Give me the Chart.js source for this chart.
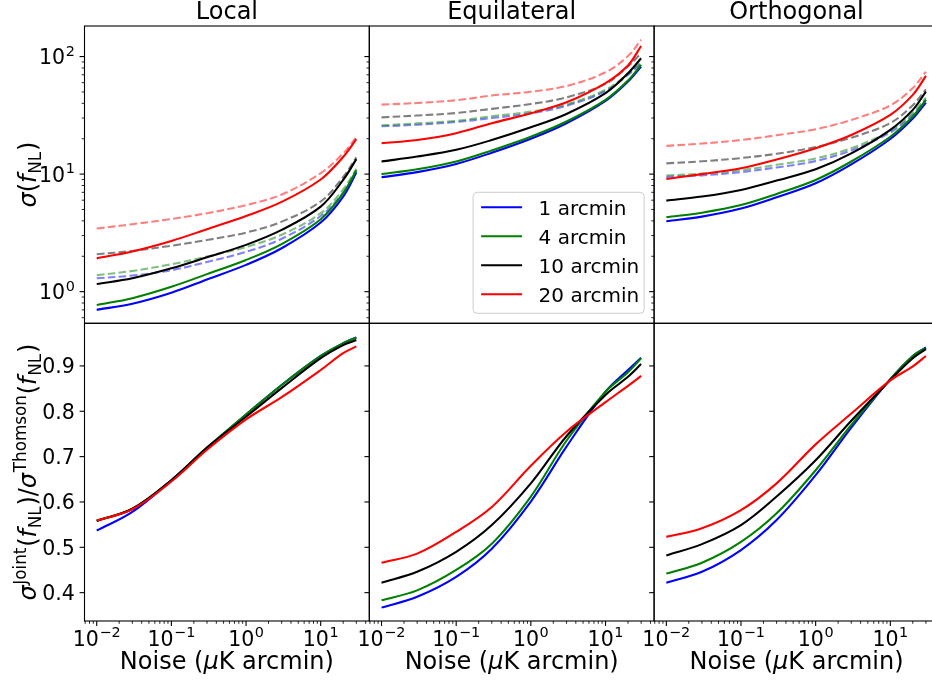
<!DOCTYPE html>
<html><head><meta charset="utf-8"><title>sigma fNL vs noise</title>
<script src="https://cdn.jsdelivr.net/npm/chart.js@4.4.1/dist/chart.umd.min.js"></script>
<style>
html,body{margin:0;padding:0;width:932px;height:683px;overflow:hidden;background:#fff}
canvas{position:absolute;left:0;top:0}
</style></head><body>
<script>
// ---------------- data ----------------
const noise = [0.01, 0.03, 0.1, 0.3, 1, 3, 10, 20, 30];
const beams = ['1 arcmin', '4 arcmin', '10 arcmin', '20 arcmin'];
const shapeTitles = ['Local', 'Equilateral', 'Orthogonal'];
const xTickValues = [0.01, 0.1, 1, 10];
const xTickExps = ['\u22122', '\u22121', '0', '1'];
const sigmaTickValues = [1, 10, 100];
const sigmaTickExps = ['0', '1', '2'];
const ratioTickValues = [0.4, 0.5, 0.6, 0.7, 0.8, 0.9];
const ratioTickLabels = ['0.4', '0.5', '0.6', '0.7', '0.8', '0.9'];

// Local: sigma(fNL) joint (solid) and Thomson only (dashed)
const localJoint1 = [0.70, 0.79, 0.98, 1.27, 1.69, 2.34, 3.87, 6.44, 10.3];
const localJoint4 = [0.77, 0.88, 1.10, 1.41, 1.86, 2.54, 4.13, 6.87, 10.8];
const localJoint10 = [1.16, 1.30, 1.58, 1.96, 2.50, 3.35, 5.29, 8.92, 13.4];
const localJoint20 = [1.92, 2.20, 2.70, 3.40, 4.40, 5.80, 9.00, 14.0, 19.8];
const localThomson1 = [1.30, 1.37, 1.52, 1.79, 2.18, 2.82, 4.40, 6.95, 10.6];
const localThomson4 = [1.38, 1.50, 1.71, 1.99, 2.40, 3.05, 4.65, 7.40, 11.1];
const localThomson10 = [2.08, 2.22, 2.46, 2.75, 3.18, 3.94, 5.85, 9.45, 13.9];
const localThomson20 = [3.44, 3.75, 4.15, 4.65, 5.45, 6.70, 10.2, 15.0, 20.6];
// Equilateral
const equilJoint1 = [9.40, 10.4, 12.2, 15.2, 20.0, 27.1, 42.0, 61.3, 82.2];
const equilJoint4 = [10.0, 11.0, 12.8, 15.9, 20.8, 28.0, 42.8, 62.5, 85.0];
const equilJoint10 = [12.8, 14.1, 16.1, 19.5, 25.0, 32.5, 48.8, 72.1, 96.8];
const equilJoint20 = [18.3, 19.5, 22.3, 27.1, 32.9, 40.8, 59.5, 84.0, 123];
const equilThomson1 = [25.5, 26.3, 27.8, 30.0, 32.9, 38.1, 50.9, 69.8, 87.5];
const equilThomson4 = [26.0, 27.0, 28.4, 31.1, 34.0, 39.1, 52.2, 71.3, 89.5];
const equilThomson10 = [30.4, 31.5, 33.1, 35.9, 39.5, 45.0, 58.5, 82.5, 107];
const equilThomson20 = [39.0, 40.3, 42.5, 46.6, 50.2, 56.2, 73.5, 101, 139];
// Orthogonal
const orthoJoint1 = [3.97, 4.35, 5.09, 6.35, 8.36, 12.1, 19.9, 29.7, 40.6];
const orthoJoint4 = [4.29, 4.70, 5.46, 6.78, 8.92, 12.8, 20.8, 30.9, 42.8];
const orthoJoint10 = [5.95, 6.44, 7.33, 8.81, 11.0, 15.0, 23.8, 35.2, 50.4];
const orthoJoint20 = [9.10, 10.0, 11.2, 13.3, 16.6, 21.5, 31.9, 47.2, 68.4];
const orthoThomson1 = [9.47, 9.76, 10.4, 11.4, 12.9, 15.9, 22.6, 32.0, 42.9];
const orthoThomson4 = [9.74, 10.1, 10.8, 12.0, 13.6, 16.6, 23.4, 33.2, 44.8];
const orthoThomson10 = [12.35, 12.85, 13.7, 14.9, 17.0, 20.4, 27.2, 38.6, 52.6];
const orthoThomson20 = [17.4, 18.2, 19.5, 21.4, 24.1, 28.9, 38.4, 54.0, 74.3];
// ratio sigma_joint / sigma_Thomson
const localRatio1 = [0.537, 0.578, 0.648, 0.718, 0.793, 0.858, 0.922, 0.950, 0.963];
const localRatio4 = [0.559, 0.585, 0.648, 0.720, 0.793, 0.858, 0.922, 0.950, 0.962];
const localRatio10 = [0.558, 0.585, 0.648, 0.720, 0.788, 0.851, 0.917, 0.946, 0.957];
const localRatio20 = [0.559, 0.584, 0.645, 0.715, 0.782, 0.831, 0.891, 0.928, 0.943];
const equilRatio1 = [0.367, 0.391, 0.435, 0.497, 0.601, 0.722, 0.843, 0.891, 0.918];
const equilRatio4 = [0.383, 0.405, 0.450, 0.508, 0.612, 0.735, 0.843, 0.886, 0.917];
const equilRatio10 = [0.422, 0.446, 0.490, 0.549, 0.641, 0.745, 0.836, 0.876, 0.904];
const equilRatio20 = [0.466, 0.486, 0.534, 0.589, 0.680, 0.755, 0.820, 0.856, 0.878];
const orthoRatio1 = [0.422, 0.446, 0.494, 0.560, 0.659, 0.764, 0.871, 0.922, 0.941];
const orthoRatio4 = [0.442, 0.466, 0.512, 0.575, 0.670, 0.770, 0.871, 0.922, 0.940];
const orthoRatio10 = [0.482, 0.507, 0.549, 0.612, 0.692, 0.779, 0.869, 0.917, 0.937];
const orthoRatio20 = [0.523, 0.542, 0.582, 0.641, 0.727, 0.795, 0.868, 0.899, 0.922];

// ---------------- styling / layout ----------------
const beamColors = ['#0000ff', '#008000', '#000000', '#ff0000'];
const beamFaded = ['rgba(0,0,255,0.5)', 'rgba(0,128,0,0.5)', 'rgba(0,0,0,0.5)', 'rgba(255,0,0,0.5)'];
const FONT = '"DejaVu Sans", "Liberation Sans", sans-serif';
const CW = 945, CH = 683;
const colLeft = [84.5, 369.3, 654.1];
const colRight = [369.3, 654.1, 938.9];
const rowTop = [26, 323.3];
const rowBottom = [323.3, 621];
const X_MIN = 0.00686, X_MAX = 44.75;
const SIG_MIN = 0.538, SIG_MAX = 182;
const RAT_MIN = 0.3375, RAT_MAX = 0.994;
const TICK_FS = 20.5, SUP_FS = 14.4, LABEL_FS = 24, TITLE_FS = 24, LEG_FS = 20;
const LW = 2.08;

const panelData = [
  { joint: [localJoint1, localJoint4, localJoint10, localJoint20],
    thomson: [localThomson1, localThomson4, localThomson10, localThomson20],
    ratio: [localRatio1, localRatio4, localRatio10, localRatio20] },
  { joint: [equilJoint1, equilJoint4, equilJoint10, equilJoint20],
    thomson: [equilThomson1, equilThomson4, equilThomson10, equilThomson20],
    ratio: [equilRatio1, equilRatio4, equilRatio10, equilRatio20] },
  { joint: [orthoJoint1, orthoJoint4, orthoJoint10, orthoJoint20],
    thomson: [orthoThomson1, orthoThomson4, orthoThomson10, orthoThomson20],
    ratio: [orthoRatio1, orthoRatio4, orthoRatio10, orthoRatio20] }
];

function logTicks(min, max) {
  const out = [];
  for (let e = Math.floor(Math.log10(min)); e <= Math.ceil(Math.log10(max)); e++) {
    for (let m = 1; m <= 9; m++) {
      const v = m * Math.pow(10, e);
      if (v >= min && v <= max) out.push({ v, major: m === 1 });
    }
  }
  return out;
}
function seg(ctx, x1, y1, x2, y2, w, c) {
  ctx.beginPath(); ctx.moveTo(x1, y1); ctx.lineTo(x2, y2);
  ctx.lineWidth = w; ctx.strokeStyle = c || '#000'; ctx.stroke();
}
function drawPow(ctx, exp, x, y, align) {
  ctx.textAlign = 'left'; ctx.textBaseline = 'alphabetic'; ctx.fillStyle = '#000';
  ctx.font = TICK_FS + 'px ' + FONT; const wb = ctx.measureText('10').width;
  ctx.font = SUP_FS + 'px ' + FONT; const we = ctx.measureText(exp).width;
  const total = wb + we + 0.6;
  const x0 = align === 'center' ? x - total / 2 : x - total;
  ctx.font = TICK_FS + 'px ' + FONT; ctx.fillText('10', x0, y);
  ctx.font = SUP_FS + 'px ' + FONT; ctx.fillText(exp, x0 + wb + 0.6, y - 8.6);
}
function partFont(kind, fs) {
  if (kind === 'i') return 'italic ' + fs + 'px ' + FONT;
  if (kind === 'sub' || kind === 'sup') return (fs * 0.7) + 'px ' + FONT;
  return fs + 'px ' + FONT;
}
function richWidth(ctx, parts, fs) {
  let w = 0;
  parts.forEach(p => { ctx.font = partFont(p[1], fs); w += ctx.measureText(p[0]).width + (p[1] === 'sup' || p[1] === 'sub' ? 1.5 : 0); });
  return w;
}
function drawRich(ctx, parts, fs, x, y) {
  ctx.textAlign = 'left'; ctx.textBaseline = 'alphabetic'; ctx.fillStyle = '#000';
  let cx = x;
  parts.forEach(p => {
    ctx.font = partFont(p[1], fs);
    const dy = p[1] === 'sup' ? -0.42 * fs : (p[1] === 'sub' ? 0.2 * fs : 0);
    const pad = (p[1] === 'sup' || p[1] === 'sub') ? 0.75 : 0;
    ctx.fillText(p[0], cx + pad, y + dy);
    cx += ctx.measureText(p[0]).width + pad * 2;
  });
}

const topLabel = [['\u03c3', 'i'], ['(', 'n'], ['f', 'i'], ['NL', 'sub'], [')', 'n']];
const bottomLabel = [['\u03c3', 'i'], ['Joint', 'sup'], ['(', 'n'], ['f', 'i'], ['NL', 'sub'], [')', 'n'], ['/', 'n'],
  ['\u03c3', 'i'], ['Thomson', 'sup'], ['(', 'n'], ['f', 'i'], ['NL', 'sub'], [')', 'n']];
const xLabel = [['Noise (', 'n'], ['\u03bc', 'i'], ['K arcmin)', 'n']];

const panelPlugin = {
  id: 'panel',
  afterDraw(chart, args, o) {
    const ctx = chart.ctx, a = chart.chartArea, xs = chart.scales.x, ys = chart.scales.y;
    ctx.save();
    if (o.row === 0) {
      logTicks(SIG_MIN, SIG_MAX).forEach(t => {
        const py = ys.getPixelForValue(t.v);
        seg(ctx, a.left, py, a.left - (t.major ? 4.9 : 2.8), py, t.major ? 1.1 : 0.85);
      });
      if (o.col === 0) sigmaTickValues.forEach((v, i) => {
        drawPow(ctx, sigmaTickExps[i], a.left - 9.7, ys.getPixelForValue(v) + 7.6, 'right');
      });
    } else {
      ratioTickValues.forEach((v, i) => {
        const py = ys.getPixelForValue(v);
        seg(ctx, a.left, py, a.left - 4.9, py, 1.1);
        if (o.col === 0) {
          ctx.font = TICK_FS + 'px ' + FONT; ctx.textAlign = 'right'; ctx.textBaseline = 'alphabetic';
          ctx.fillStyle = '#000'; ctx.fillText(ratioTickLabels[i], a.left - 9.7, py + 7.4);
        }
      });
    }
    if (o.row === 1) {
      logTicks(X_MIN, X_MAX).forEach(t => {
        const px = xs.getPixelForValue(t.v);
        seg(ctx, px, a.bottom, px, a.bottom + (t.major ? 4.9 : 2.8), t.major ? 1.1 : 0.85);
      });
      xTickValues.forEach((v, i) => drawPow(ctx, xTickExps[i], xs.getPixelForValue(v), 646, 'center'));
      const w = richWidth(ctx, xLabel, LABEL_FS);
      drawRich(ctx, xLabel, LABEL_FS, (a.left + a.right) / 2 - w / 2, 669);
    }
    ctx.lineWidth = 1.1; ctx.strokeStyle = '#000';
    ctx.strokeRect(a.left, a.top, a.right - a.left, a.bottom - a.top);
    if (o.row === 0) {
      ctx.font = TITLE_FS + 'px ' + FONT; ctx.textAlign = 'center'; ctx.textBaseline = 'alphabetic';
      ctx.fillStyle = '#000'; ctx.fillText(o.title, (a.left + a.right) / 2, 18.5);
    }
    if (o.col === 0) {
      const parts = o.row === 0 ? topLabel : bottomLabel;
      const w = richWidth(ctx, parts, LABEL_FS);
      const cy = (a.top + a.bottom) / 2;
      ctx.save(); ctx.translate(36, cy); ctx.rotate(-Math.PI / 2);
      drawRich(ctx, parts, LABEL_FS, -w / 2, 0);
      ctx.restore();
    }
    if (o.legend) {
      const lw = 171, lh = 121;
      const x0 = a.right - 10 - lw, y0 = a.bottom - 10 - lh;
      ctx.beginPath(); ctx.roundRect(x0, y0, lw, lh, 4);
      ctx.fillStyle = 'rgba(255,255,255,0.8)'; ctx.fill();
      ctx.lineWidth = 1; ctx.strokeStyle = '#cccccc'; ctx.stroke();
      chart.data.datasets.filter(d => d.legendLabel).sort((p, q) => p.beamIndex - q.beamIndex).forEach((d, i) => {
        const cy = y0 + 15 + i * 29;
        seg(ctx, x0 + 8, cy, x0 + 49, cy, LW, d.borderColor);
        ctx.font = LEG_FS + 'px ' + FONT; ctx.textAlign = 'left'; ctx.textBaseline = 'alphabetic';
        ctx.fillStyle = '#000'; ctx.fillText(d.legendLabel, x0 + 65.5, cy + 7.3);
      });
    }
    ctx.restore();
  }
};

function makeDataset(vals, k, dashed) {
  return {
    data: noise.map((x, i) => ({ x: x, y: vals[i] })),
    borderColor: dashed ? beamFaded[k] : beamColors[k],
    borderWidth: LW,
    borderDash: dashed ? [7.7, 3.3] : [],
    pointRadius: 0,
    fill: false,
    tension: 0.35,
    order: dashed ? 20 - k : 10 - k,
    beamIndex: k,
    legendLabel: dashed ? null : beams[k]
  };
}

for (let row = 0; row < 2; row++) {
  for (let col = 0; col < 3; col++) {
    const cv = document.createElement('canvas');
    cv.width = CW; cv.height = CH; cv.style.width = CW + 'px'; cv.style.height = CH + 'px';
    document.body.appendChild(cv);
    const pd = panelData[col];
    const datasets = [];
    if (row === 0) {
      for (let k = 0; k < 4; k++) {
        datasets.push(makeDataset(pd.joint[k], k, false));
        datasets.push(makeDataset(pd.thomson[k], k, true));
      }
    } else {
      for (let k = 0; k < 4; k++) datasets.push(makeDataset(pd.ratio[k], k, false));
    }
    new Chart(cv, {
      type: 'line',
      data: { datasets },
      plugins: [panelPlugin],
      options: {
        responsive: false, animation: false, events: [], devicePixelRatio: 1,
        layout: { padding: { left: colLeft[col], right: CW - colRight[col], top: rowTop[row], bottom: CH - rowBottom[row] } },
        plugins: {
          legend: { display: false }, tooltip: { enabled: false },
          panel: { row, col, title: shapeTitles[col], legend: row === 0 && col === 1 }
        },
        scales: {
          x: { type: 'logarithmic', min: X_MIN, max: X_MAX, display: false },
          y: row === 0 ? { type: 'logarithmic', min: SIG_MIN, max: SIG_MAX, display: false }
                       : { type: 'linear', min: RAT_MIN, max: RAT_MAX, display: false }
        }
      }
    });
  }
}
</script></body></html>
